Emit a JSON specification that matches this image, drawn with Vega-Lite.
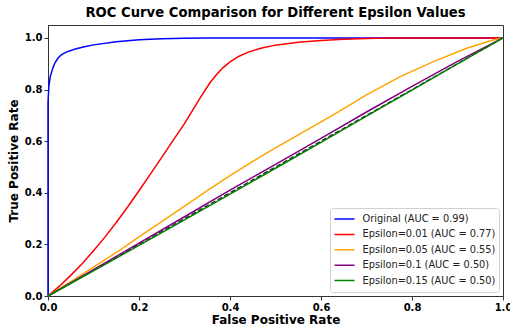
{
  "$schema": "https://vega.github.io/schema/vega-lite/v6.json",
  "width": 455,
  "height": 271,
  "autosize": {"type": "none"},
  "padding": {"left": 48, "top": 25, "right": 7, "bottom": 33},
  "background": "white",
  "title": {"text": "ROC Curve Comparison for Different Epsilon Values", "font": "DejaVu Sans", "fontSize": 13.2, "fontWeight": "bold", "color": "black", "offset": 5},
  "config": {
    "view": {"stroke": "#333", "strokeWidth": 1},
    "font": "DejaVu Sans",
    "axis": {"grid": false, "domainColor": "#333", "tickColor": "#333", "tickSize": 4, "labelFont": "DejaVu Sans", "labelFontSize": 10, "labelFontWeight": "bold", "labelColor": "black", "titleFont": "DejaVu Sans", "titleFontSize": 12, "titleFontWeight": "bold", "titleColor": "black", "labelPadding": 2, "labelBound": false, "labelFlush": false, "labelOverlap": false}
  },
  "layer": [
    {
      "data": {"values": [{"fpr": 0, "tpr": 0}, {"fpr": 1, "tpr": 1}]},
      "mark": {"type": "line", "color": "#222", "strokeWidth": 1.3, "strokeDash": [5, 2.5], "clip": true},
      "encoding": {
        "x": {"field": "fpr", "type": "quantitative", "scale": {"domain": [0, 1], "nice": false}},
        "y": {"field": "tpr", "type": "quantitative", "scale": {"domain": [0, 1.05], "nice": false}}
      }
    },
    {
      "data": {"values": [
        {"series": "Original (AUC = 0.99)", "fpr": 0, "tpr": 0},
        {"series": "Original (AUC = 0.99)", "fpr": 0, "tpr": 0.75},
        {"series": "Original (AUC = 0.99)", "fpr": 0.002, "tpr": 0.815},
        {"series": "Original (AUC = 0.99)", "fpr": 0.005, "tpr": 0.85},
        {"series": "Original (AUC = 0.99)", "fpr": 0.01, "tpr": 0.88},
        {"series": "Original (AUC = 0.99)", "fpr": 0.015, "tpr": 0.902},
        {"series": "Original (AUC = 0.99)", "fpr": 0.022, "tpr": 0.922},
        {"series": "Original (AUC = 0.99)", "fpr": 0.03, "tpr": 0.935},
        {"series": "Original (AUC = 0.99)", "fpr": 0.04, "tpr": 0.945},
        {"series": "Original (AUC = 0.99)", "fpr": 0.06, "tpr": 0.957},
        {"series": "Original (AUC = 0.99)", "fpr": 0.08, "tpr": 0.966},
        {"series": "Original (AUC = 0.99)", "fpr": 0.1, "tpr": 0.973},
        {"series": "Original (AUC = 0.99)", "fpr": 0.15, "tpr": 0.985},
        {"series": "Original (AUC = 0.99)", "fpr": 0.2, "tpr": 0.993},
        {"series": "Original (AUC = 0.99)", "fpr": 0.25, "tpr": 0.997},
        {"series": "Original (AUC = 0.99)", "fpr": 0.3, "tpr": 0.999},
        {"series": "Original (AUC = 0.99)", "fpr": 0.35, "tpr": 1},
        {"series": "Original (AUC = 0.99)", "fpr": 1, "tpr": 1},

        {"series": "Epsilon=0.01 (AUC = 0.77)", "fpr": 0, "tpr": 0},
        {"series": "Epsilon=0.01 (AUC = 0.77)", "fpr": 0.025, "tpr": 0.038},
        {"series": "Epsilon=0.01 (AUC = 0.77)", "fpr": 0.05, "tpr": 0.08},
        {"series": "Epsilon=0.01 (AUC = 0.77)", "fpr": 0.075, "tpr": 0.125},
        {"series": "Epsilon=0.01 (AUC = 0.77)", "fpr": 0.1, "tpr": 0.175},
        {"series": "Epsilon=0.01 (AUC = 0.77)", "fpr": 0.125, "tpr": 0.228},
        {"series": "Epsilon=0.01 (AUC = 0.77)", "fpr": 0.15, "tpr": 0.285},
        {"series": "Epsilon=0.01 (AUC = 0.77)", "fpr": 0.175, "tpr": 0.345},
        {"series": "Epsilon=0.01 (AUC = 0.77)", "fpr": 0.2, "tpr": 0.408},
        {"series": "Epsilon=0.01 (AUC = 0.77)", "fpr": 0.225, "tpr": 0.472},
        {"series": "Epsilon=0.01 (AUC = 0.77)", "fpr": 0.25, "tpr": 0.537},
        {"series": "Epsilon=0.01 (AUC = 0.77)", "fpr": 0.275, "tpr": 0.603},
        {"series": "Epsilon=0.01 (AUC = 0.77)", "fpr": 0.3, "tpr": 0.668},
        {"series": "Epsilon=0.01 (AUC = 0.77)", "fpr": 0.32, "tpr": 0.726},
        {"series": "Epsilon=0.01 (AUC = 0.77)", "fpr": 0.34, "tpr": 0.783},
        {"series": "Epsilon=0.01 (AUC = 0.77)", "fpr": 0.356, "tpr": 0.826},
        {"series": "Epsilon=0.01 (AUC = 0.77)", "fpr": 0.37, "tpr": 0.857},
        {"series": "Epsilon=0.01 (AUC = 0.77)", "fpr": 0.385, "tpr": 0.885},
        {"series": "Epsilon=0.01 (AUC = 0.77)", "fpr": 0.4, "tpr": 0.907},
        {"series": "Epsilon=0.01 (AUC = 0.77)", "fpr": 0.42, "tpr": 0.929},
        {"series": "Epsilon=0.01 (AUC = 0.77)", "fpr": 0.44, "tpr": 0.945},
        {"series": "Epsilon=0.01 (AUC = 0.77)", "fpr": 0.47, "tpr": 0.961},
        {"series": "Epsilon=0.01 (AUC = 0.77)", "fpr": 0.5, "tpr": 0.972},
        {"series": "Epsilon=0.01 (AUC = 0.77)", "fpr": 0.55, "tpr": 0.983},
        {"series": "Epsilon=0.01 (AUC = 0.77)", "fpr": 0.6, "tpr": 0.99},
        {"series": "Epsilon=0.01 (AUC = 0.77)", "fpr": 0.65, "tpr": 0.995},
        {"series": "Epsilon=0.01 (AUC = 0.77)", "fpr": 0.7, "tpr": 0.998},
        {"series": "Epsilon=0.01 (AUC = 0.77)", "fpr": 0.75, "tpr": 1},
        {"series": "Epsilon=0.01 (AUC = 0.77)", "fpr": 1, "tpr": 1},

        {"series": "Epsilon=0.05 (AUC = 0.55)", "fpr": 0, "tpr": 0},
        {"series": "Epsilon=0.05 (AUC = 0.55)", "fpr": 0.05, "tpr": 0.056},
        {"series": "Epsilon=0.05 (AUC = 0.55)", "fpr": 0.1, "tpr": 0.112},
        {"series": "Epsilon=0.05 (AUC = 0.55)", "fpr": 0.158, "tpr": 0.178},
        {"series": "Epsilon=0.05 (AUC = 0.55)", "fpr": 0.2, "tpr": 0.229},
        {"series": "Epsilon=0.05 (AUC = 0.55)", "fpr": 0.25, "tpr": 0.288},
        {"series": "Epsilon=0.05 (AUC = 0.55)", "fpr": 0.3, "tpr": 0.348},
        {"series": "Epsilon=0.05 (AUC = 0.55)", "fpr": 0.35, "tpr": 0.408},
        {"series": "Epsilon=0.05 (AUC = 0.55)", "fpr": 0.4, "tpr": 0.466},
        {"series": "Epsilon=0.05 (AUC = 0.55)", "fpr": 0.45, "tpr": 0.522},
        {"series": "Epsilon=0.05 (AUC = 0.55)", "fpr": 0.5, "tpr": 0.574},
        {"series": "Epsilon=0.05 (AUC = 0.55)", "fpr": 0.554, "tpr": 0.628},
        {"series": "Epsilon=0.05 (AUC = 0.55)", "fpr": 0.627, "tpr": 0.702},
        {"series": "Epsilon=0.05 (AUC = 0.55)", "fpr": 0.7, "tpr": 0.779},
        {"series": "Epsilon=0.05 (AUC = 0.55)", "fpr": 0.774, "tpr": 0.85},
        {"series": "Epsilon=0.05 (AUC = 0.55)", "fpr": 0.847, "tpr": 0.908},
        {"series": "Epsilon=0.05 (AUC = 0.55)", "fpr": 0.92, "tpr": 0.96},
        {"series": "Epsilon=0.05 (AUC = 0.55)", "fpr": 0.978, "tpr": 0.992},
        {"series": "Epsilon=0.05 (AUC = 0.55)", "fpr": 1, "tpr": 1},

        {"series": "Epsilon=0.1 (AUC = 0.50)", "fpr": 0, "tpr": 0},
        {"series": "Epsilon=0.1 (AUC = 0.50)", "fpr": 0.1, "tpr": 0.102},
        {"series": "Epsilon=0.1 (AUC = 0.50)", "fpr": 0.2, "tpr": 0.205},
        {"series": "Epsilon=0.1 (AUC = 0.50)", "fpr": 0.3, "tpr": 0.307},
        {"series": "Epsilon=0.1 (AUC = 0.50)", "fpr": 0.4, "tpr": 0.41},
        {"series": "Epsilon=0.1 (AUC = 0.50)", "fpr": 0.5, "tpr": 0.51},
        {"series": "Epsilon=0.1 (AUC = 0.50)", "fpr": 0.6, "tpr": 0.611},
        {"series": "Epsilon=0.1 (AUC = 0.50)", "fpr": 0.7, "tpr": 0.713},
        {"series": "Epsilon=0.1 (AUC = 0.50)", "fpr": 0.8, "tpr": 0.812},
        {"series": "Epsilon=0.1 (AUC = 0.50)", "fpr": 0.9, "tpr": 0.909},
        {"series": "Epsilon=0.1 (AUC = 0.50)", "fpr": 1, "tpr": 1},

        {"series": "Epsilon=0.15 (AUC = 0.50)", "fpr": 0, "tpr": 0},
        {"series": "Epsilon=0.15 (AUC = 0.50)", "fpr": 0.1, "tpr": 0.097},
        {"series": "Epsilon=0.15 (AUC = 0.50)", "fpr": 0.2, "tpr": 0.196},
        {"series": "Epsilon=0.15 (AUC = 0.50)", "fpr": 0.3, "tpr": 0.295},
        {"series": "Epsilon=0.15 (AUC = 0.50)", "fpr": 0.4, "tpr": 0.395},
        {"series": "Epsilon=0.15 (AUC = 0.50)", "fpr": 0.5, "tpr": 0.495},
        {"series": "Epsilon=0.15 (AUC = 0.50)", "fpr": 0.6, "tpr": 0.595},
        {"series": "Epsilon=0.15 (AUC = 0.50)", "fpr": 0.7, "tpr": 0.697},
        {"series": "Epsilon=0.15 (AUC = 0.50)", "fpr": 0.8, "tpr": 0.798},
        {"series": "Epsilon=0.15 (AUC = 0.50)", "fpr": 0.9, "tpr": 0.899},
        {"series": "Epsilon=0.15 (AUC = 0.50)", "fpr": 1, "tpr": 1}
      ]},
      "mark": {"type": "line", "strokeWidth": 1.5, "clip": false},
      "encoding": {
        "x": {"field": "fpr", "type": "quantitative", "scale": {"domain": [0, 1], "nice": false},
              "axis": {"values": [0, 0.2, 0.4, 0.6, 0.8, 1.0], "format": ".1f", "title": "False Positive Rate", "titlePadding": 2}},
        "y": {"field": "tpr", "type": "quantitative", "scale": {"domain": [0, 1.05], "nice": false},
              "axis": {"values": [0, 0.2, 0.4, 0.6, 0.8, 1.0], "format": ".1f", "title": "True Positive Rate", "titlePadding": 4}},
        "order": [{"field": "fpr", "type": "quantitative"}, {"field": "tpr", "type": "quantitative"}],
        "color": {"field": "series", "type": "nominal",
                  "scale": {"domain": ["Original (AUC = 0.99)", "Epsilon=0.01 (AUC = 0.77)", "Epsilon=0.05 (AUC = 0.55)", "Epsilon=0.1 (AUC = 0.50)", "Epsilon=0.15 (AUC = 0.50)"],
                            "range": ["#0000ff", "#ff0000", "#ffa500", "#800080", "#008000"]},
                  "legend": {"title": null, "orient": "bottom-right", "offset": 4, "symbolType": "stroke", "symbolSize": 400, "symbolStrokeWidth": 1.5, "clipHeight": 15, "rowPadding": 0.4, "labelFont": "DejaVu Sans", "labelFontSize": 9.8, "labelColor": "#222", "labelOffset": 7, "padding": 3.5, "strokeColor": "#d0d0d0", "fillColor": "white", "cornerRadius": 3}}
      }
    }
  ]
}
